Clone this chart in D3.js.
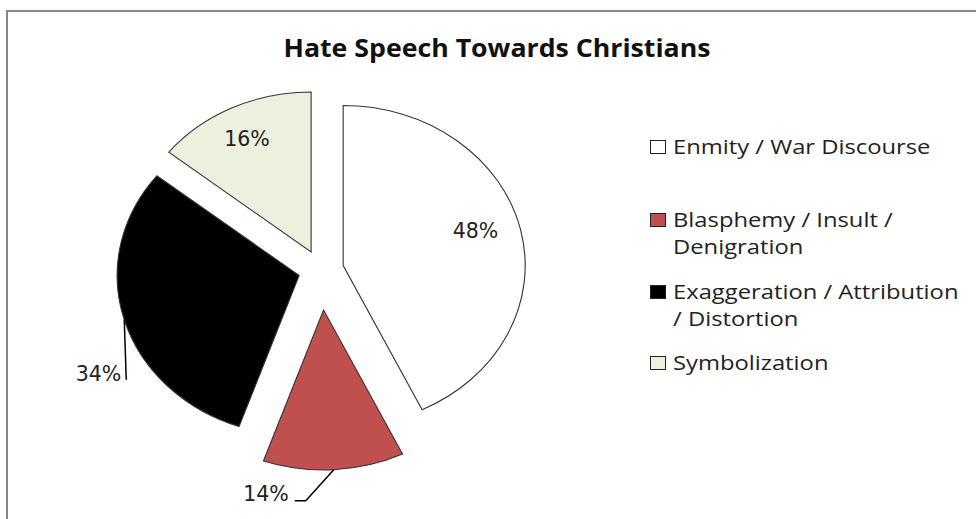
<!DOCTYPE html>
<html>
<head>
<meta charset="utf-8">
<script src="https://cdn.jsdelivr.net/npm/d3@7"></script>
<style>
  html, body { margin: 0; padding: 0; background: #fff; }
  svg { display: block; }
</style>
</head>
<body>
<svg id="chart" width="976" height="519"></svg>
<script>
// ---- data ----
const categories = ["Enmity / War Discourse", "Blasphemy / Insult / Denigration", "Exaggeration / Attribution / Distortion", "Symbolization"];
const values = [48, 14, 34, 16];
const valueLabels = ["48%", "14%", "34%", "16%"];
const legendLines = [["Enmity / War Discourse"], ["Blasphemy / Insult /", "Denigration"], ["Exaggeration / Attribution", "/ Distortion"], ["Symbolization"]];
const title = "Hate Speech Towards Christians";

// ---- style / layout ----
const colors = ["#FFFFFF", "#C0504D", "#000000", "#EBF1DE"];
const explode = [20, 40, 20, 20];
const W = 976, H = 519;
const cx = 321, cy = 270, r = 160, sx = 1.1375;

const svg = d3.select("#chart");
svg.append("rect").attr("x", 7).attr("y", 11).attr("width", 1000).attr("height", 600)
  .attr("fill", "#fff").attr("stroke", "#888").attr("stroke-width", 2);

svg.append("text").attr("transform", "translate(497,57) scale(1.09,1)").attr("text-anchor", "middle")
  .attr("font-family", "Open Sans").attr("font-weight", "bold").attr("font-size", 24.5)
  .attr("fill", "#111").text(title);

const data = categories.map((c, i) => ({ cat: c, value: values[i], label: valueLabels[i], i }));
const pie = d3.pie().value(d => d.value).sort(null);
const arcs = pie(data);
const arc = d3.arc().innerRadius(0).outerRadius(r);

const g = svg.append("g").attr("transform", `translate(${cx},${cy}) scale(${sx},1)`);
const mid = a => (a.startAngle + a.endAngle) / 2;
const off = a => [explode[a.index] * Math.sin(mid(a)), -explode[a.index] * Math.cos(mid(a))];

g.selectAll("path").data(arcs).enter().append("path")
  .attr("d", arc)
  .attr("transform", a => `translate(${off(a)[0]},${off(a)[1]})`)
  .attr("fill", a => colors[a.index])
  .attr("stroke", "#333").attr("stroke-width", 1.1)
  .attr("vector-effect", "non-scaling-stroke");

// screen coordinates of a point at angle/radius of a slice
function pt(a, rad) {
  const o = off(a), m = mid(a);
  return [cx + sx * (o[0] + rad * Math.sin(m)), cy + (o[1] - rad * Math.cos(m))];
}

const labelFont = { family: "DejaVu Sans", size: 20.5, color: "#222" };
// label placement: inside labels at a fraction of radius; outside with leaders
const labelLayout = [
  { type: "inside", rad: 0.76, dAng: -0.07 },
  { type: "outside", leader: [[-28, 31], [-39, 31]], dx: -6, dy: 0.5 },
  { type: "outside", leader: [[2, 60]], dx: -5, dy: 1 },
  { type: "inside", rad: 0.79, dAng: -0.014 }
];

arcs.forEach(a => {
  const L = labelLayout[a.index];
  if (L.type === "inside") {
    const o = off(a), m = mid(a) + L.dAng, rad = r * L.rad;
    const x = cx + sx * (o[0] + rad * Math.sin(m)), y = cy + (o[1] - rad * Math.cos(m));
    svg.append("text").attr("x", x).attr("y", y).attr("dy", "0.36em")
      .attr("text-anchor", "middle").attr("font-family", labelFont.family)
      .attr("font-size", labelFont.size).attr("fill", labelFont.color).text(a.data.label);
  } else {
    const s = pt(a, r);
    const pts = [s].concat(L.leader.map(p => [s[0] + p[0], s[1] + p[1]]));
    svg.append("path").attr("d", d3.line()(pts)).attr("fill", "none")
      .attr("stroke", "#000").attr("stroke-width", 1.5);
    const e = pts[pts.length - 1];
    svg.append("text").attr("x", e[0] + L.dx).attr("y", e[1] + L.dy)
      .attr("text-anchor", "end").attr("font-family", labelFont.family)
      .attr("font-size", labelFont.size).attr("fill", labelFont.color).text(a.data.label);
  }
});

// legend
const legendBaselines = [154, 227, 299, 370];
const leg = svg.append("g");
legendLines.forEach((lines, i) => {
  const b = legendBaselines[i];
  leg.append("rect").attr("x", 650.5).attr("y", b - 13.5).attr("width", 15).attr("height", 13)
    .attr("fill", colors[i]).attr("stroke", "#222").attr("stroke-width", 1);
  lines.forEach((t, j) => {
    leg.append("text").attr("transform", `translate(673,${b + j * 27}) scale(1.16,1)`)
      .attr("font-family", "Open Sans").attr("font-size", 20.5).attr("fill", "#222").text(t);
  });
});
</script>
</body>
</html>
